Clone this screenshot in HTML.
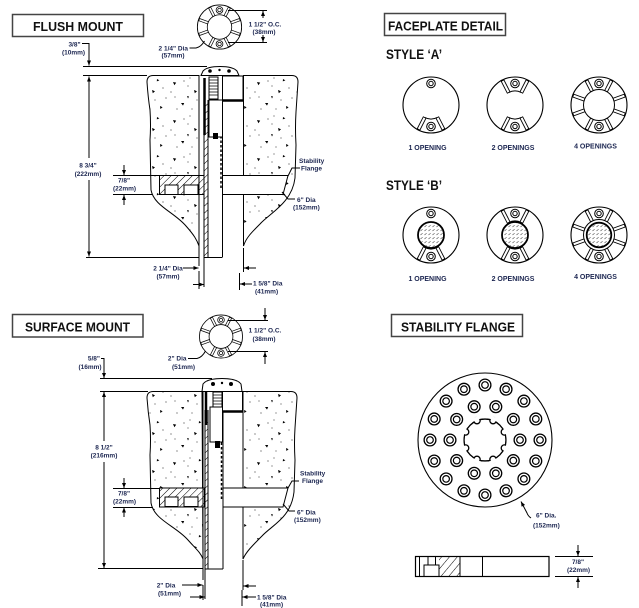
<!DOCTYPE html>
<html><head><meta charset="utf-8"><style>
html,body{margin:0;padding:0;background:#fff;}
svg{display:block;}
.t{font-family:"Liberation Sans",Arial,sans-serif;font-weight:bold;font-size:13px;fill:#111;}
.s{font-family:"Liberation Sans",Arial,sans-serif;font-weight:bold;font-size:13.5px;fill:#111;}
.l{font-family:"Liberation Sans",Arial,sans-serif;font-weight:bold;font-size:6.5px;fill:#1b2550;}
.o{font-family:"Liberation Sans",Arial,sans-serif;font-weight:bold;font-size:7px;fill:#1b2550;}
</style></head><body>
<svg width="639" height="608" viewBox="0 0 639 608" xmlns="http://www.w3.org/2000/svg">
<defs>
<marker id="a" viewBox="0 0 5 4" refX="5" refY="2" markerWidth="5" markerHeight="4" orient="auto" markerUnits="userSpaceOnUse"><path d="M0 0L5 2L0 4Z" fill="#000"/></marker>
<pattern id="conc" width="42" height="38" patternUnits="userSpaceOnUse">
<rect width="42" height="38" fill="#fff"/>
<path d="M5 6l3.2 .6l-1.8 2.6z M26 14l3 1.2l-2.2 2z M13 27l3.2 0l-1.2 2.6z M34 30l2.6 1.2l-2.2 1.8z M31 3l2.4 1.4l-2.6 1z M19 20l2 .5l-1 2z" fill="#000"/>
<g fill="#000"><circle cx="16" cy="5" r=".55"/><circle cx="3" cy="16" r=".55"/><circle cx="20" cy="10" r=".5"/><circle cx="37" cy="12" r=".55"/><circle cx="9" cy="33" r=".55"/><circle cx="24" cy="33" r=".5"/><circle cx="40" cy="22" r=".55"/><circle cx="29" cy="24" r=".5"/><circle cx="7" cy="21" r=".5"/><circle cx="22" cy="2" r=".5"/></g>
</pattern>
<pattern id="hat" width="5" height="5" patternUnits="userSpaceOnUse" patternTransform="rotate(45)"><rect width="5" height="5" fill="#fff"/><line x1="0" y1="0" x2="0" y2="5" stroke="#000" stroke-width="1"/></pattern>
<pattern id="hat2" width="6" height="6" patternUnits="userSpaceOnUse" patternTransform="rotate(40)"><rect width="6" height="6" fill="#fff"/><line x1="0" y1="0" x2="0" y2="6" stroke="#000" stroke-width="1"/></pattern>
<pattern id="hb" width="4" height="4" patternUnits="userSpaceOnUse"><rect width="4" height="4" fill="#fff"/><path d="M0.5 3L2.6 1.2" stroke="#444" stroke-width="0.6"/></pattern>
<g id="bolt"><circle r="4.3" fill="#fff" stroke="#000" stroke-width="1"/><circle r="2.2" fill="none" stroke="#000" stroke-width="1"/></g>
<rect id="bar" x="-1.5" y="-27.4" width="3" height="13.4" fill="#fff" stroke="#000" stroke-width="0.9"/>
<rect id="bar2" x="-1.5" y="-27.4" width="3" height="11.9" fill="#fff" stroke="#000" stroke-width="0.9"/>
<g id="band"><path d="M-6.35 -12.47A14 14 0 0 1 6.35 -12.47" fill="none" stroke="#000" stroke-width="1"/><use href="#bar" transform="rotate(-27)"/><use href="#bar" transform="rotate(27)"/></g>
<g id="f1"><circle r="28" fill="#fff" stroke="#000" stroke-width="1.1"/><use href="#band" transform="rotate(180)"/><use href="#bolt" y="-21.5"/><use href="#bolt" y="21.5"/></g>
<g id="f2"><circle r="28" fill="#fff" stroke="#000" stroke-width="1.1"/><use href="#band"/><use href="#band" transform="rotate(180)"/><use href="#bolt" y="-21.5"/><use href="#bolt" y="21.5"/></g>
<g id="f4"><circle r="28" fill="#fff" stroke="#000" stroke-width="1.1"/><circle r="15.5" fill="none" stroke="#000" stroke-width="1"/>
<use href="#bar2" transform="rotate(27)"/><use href="#bar2" transform="rotate(-27)"/><use href="#bar2" transform="rotate(70)"/><use href="#bar2" transform="rotate(-70)"/><use href="#bar2" transform="rotate(110)"/><use href="#bar2" transform="rotate(-110)"/><use href="#bar2" transform="rotate(153)"/><use href="#bar2" transform="rotate(-153)"/>
<use href="#bolt" y="-21.5"/><use href="#bolt" y="21.5"/></g>
<g id="hole"><circle r="5.9" fill="#fff" stroke="#000" stroke-width="1.3"/><circle r="3.3" fill="none" stroke="#000" stroke-width="1.2"/></g>
</defs>

<!-- ================= FLUSH MOUNT ================= -->
<rect x="12.5" y="14.5" width="131" height="22" fill="#fff" stroke="#444" stroke-width="1.5"/>
<text x="78" y="31" class="t" text-anchor="middle" textLength="90" lengthAdjust="spacingAndGlyphs">FLUSH MOUNT</text>

<use href="#f4" transform="translate(219.5,27) scale(0.79)"/>

<!-- concrete -->
<path d="M199 75.5H153Q147 75.5 147 82Q148 97 150 110Q151 125 150 140L151 190C154 206 174 212 186 226C194 235 197 240 199 246Z" fill="url(#conc)" stroke="#000" stroke-width="1"/>
<path d="M243.5 75.5H292Q298 75.5 298 82Q297 98 296 112Q295 128 296 145L295 178C292 203 270 213 260 224C251 233 246 238 243.5 246Z" fill="url(#conc)" stroke="#000" stroke-width="1"/>

<!-- flange -->
<rect x="159.5" y="175.5" width="44.5" height="19" fill="url(#hat)" stroke="#000" stroke-width="1"/>
<rect x="165" y="185" width="13" height="9.5" fill="#fff" stroke="#000" stroke-width="1"/>
<rect x="184" y="185" width="14" height="9.5" fill="#fff" stroke="#000" stroke-width="1"/>
<polygon points="222.5,175.5 288,175.5 283,194.5 222.5,194.5" fill="#fff" stroke="#000" stroke-width="1"/>

<!-- pipe -->
<rect x="204" y="100" width="4" height="157" fill="url(#hat)"/>
<g stroke="#000" stroke-width="1" fill="none">
<path d="M199 75.5V266M199 271V289"/>
<path d="M204 100V287M208 100V257M222.5 100V257M204 257.5H222.5"/>
<path d="M243.5 248V272M239.5 273V290"/>
<path d="M83 66.5H207M83 75.5H147M86 257.5H199"/>
</g>
<path d="M221 100V188" stroke="#000" stroke-width="1.5" stroke-dasharray="2.5 2"/>
<!-- top detail -->
<path d="M201 75.5L203 71Q207 66.5 220 66.5Q233 66.5 237 71L239 75.5Z" fill="#fff" stroke="#000" stroke-width="1"/>
<circle cx="210" cy="71" r="1.8"/><circle cx="229" cy="71" r="1.8"/><circle cx="219.5" cy="70" r="1.2"/>
<rect x="222.5" y="76" width="20.5" height="24" fill="#fff" stroke="#000" stroke-width="1"/>
<path d="M222.5 100.5H243" stroke="#000" stroke-width="2.5"/>
<path d="M204.5 78V135" stroke="#000" stroke-width="2.5"/>
<rect x="209" y="77" width="9" height="22" fill="#fff" stroke="#000" stroke-width="1"/>
<path d="M209 80H218M209 83H218M209 86H218M209 89H218M209 92H218M209 95H218" stroke="#000" stroke-width="0.8"/>
<rect x="209" y="100" width="13.5" height="37" fill="#fff" stroke="#000" stroke-width="1"/>
<rect x="213" y="133" width="5" height="6" fill="#000"/>

<!-- dims flush -->
<g stroke="#000" stroke-width="1" fill="none">
<path d="M228 10.5H267M228 42.5H267"/>
<path d="M263 18V11" marker-end="url(#a)"/><path d="M263 35V42" marker-end="url(#a)"/>
<path d="M189.5 48H196Q201 47 204.5 41"/>
<path d="M82 43.5H89V65.5" marker-end="url(#a)"/>
<path d="M89 158V76.5" marker-end="url(#a)"/><path d="M89 180V256.5" marker-end="url(#a)"/>
<path d="M113 175.5H160M113 194.5H152"/>
<path d="M124 165V175" marker-end="url(#a)"/><path d="M124 205V195" marker-end="url(#a)"/>
<path d="M183 268H198.5" marker-end="url(#a)"/><path d="M193 284.5H204" marker-end="url(#a)"/>
<path d="M256 268H244" marker-end="url(#a)"/><path d="M252 284H240" marker-end="url(#a)"/>
<path d="M288 176L292 168H300"/>
<path d="M282 192L288 199H295"/>
</g>
<text class="l" x="265" y="26.5" text-anchor="middle">1 1/2&quot; O.C.</text>
<text class="l" x="264" y="34" text-anchor="middle">(38mm)</text>
<text class="l" x="188" y="50.5" text-anchor="end">2 1/4&quot; Dia</text>
<text class="l" x="173" y="57.5" text-anchor="middle">(57mm)</text>
<text class="l" x="74.5" y="46.5" text-anchor="middle">3/8&quot;</text>
<text class="l" x="73.5" y="54.5" text-anchor="middle">(10mm)</text>
<text class="l" x="88" y="167.5" text-anchor="middle">8 3/4&quot;</text>
<text class="l" x="88" y="176" text-anchor="middle">(222mm)</text>
<text class="l" x="124" y="182.5" text-anchor="middle">7/8&quot;</text>
<text class="l" x="124.5" y="190.5" text-anchor="middle">(22mm)</text>
<text class="l" x="299" y="163">Stability</text>
<text class="l" x="301" y="170.5">Flange</text>
<text class="l" x="297" y="202">6&quot; Dia</text>
<text class="l" x="293" y="209.5">(152mm)</text>
<text class="l" x="168" y="270.5" text-anchor="middle">2 1/4&quot; Dia</text>
<text class="l" x="168" y="278.5" text-anchor="middle">(57mm)</text>
<text class="l" x="253" y="285.5">1 5/8&quot; Dia</text>
<text class="l" x="255" y="293.5">(41mm)</text>

<!-- ================= SURFACE MOUNT ================= -->
<rect x="12.5" y="314.5" width="130.5" height="22.5" fill="#fff" stroke="#444" stroke-width="1.5"/>
<text x="77.5" y="331.5" class="t" text-anchor="middle" textLength="105" lengthAdjust="spacingAndGlyphs">SURFACE MOUNT</text>

<use href="#f4" transform="translate(221,336.5) scale(0.77)"/>

<path d="M202 391.5H153Q147 391.5 147 398Q148 412 150 425Q151 440 150 455L151 503C154 520 176 526 188 540C196 549 201 553 203 559Z" fill="url(#conc)" stroke="#000" stroke-width="1"/>
<path d="M243 391.5H291Q297 391.5 297 398Q296 413 295 428Q294 443 295 460L294 492C291 518 272 525 262 536C252 546 246 552 243 559Z" fill="url(#conc)" stroke="#000" stroke-width="1"/>

<rect x="159.5" y="488" width="45" height="19" fill="url(#hat)" stroke="#000" stroke-width="1"/>
<rect x="165" y="497" width="13" height="9.5" fill="#fff" stroke="#000" stroke-width="1"/>
<rect x="184" y="497" width="14" height="9.5" fill="#fff" stroke="#000" stroke-width="1"/>
<polygon points="223,488 288,488 283,507 223,507" fill="#fff" stroke="#000" stroke-width="1"/>

<rect x="205" y="420" width="3" height="149" fill="url(#hat)"/>
<g stroke="#000" stroke-width="1" fill="none">
<path d="M203 391.5V580M203 585V600"/>
<path d="M205 410V599M208 410V569M223 411V569M205 569H223"/>
<path d="M243 560V590M242 590V606"/>
<path d="M100 378.5H212M100 391.5H148M98 568.5H203"/>
</g>
<path d="M221.5 411V500" stroke="#000" stroke-width="1.5" stroke-dasharray="2.5 2"/>
<path d="M202 391.5L203 384Q207 378.5 222 378.5Q237 378.5 241 384L242 391.5Z" fill="#fff" stroke="#000" stroke-width="1"/>
<circle cx="213" cy="384" r="2"/><circle cx="231" cy="384" r="2"/><circle cx="222" cy="383" r="1.2"/>
<rect x="222.5" y="391.5" width="20" height="20" fill="#fff" stroke="#000" stroke-width="1"/>
<path d="M222.5 411.5H243" stroke="#000" stroke-width="2.5"/>
<path d="M206 392V425" stroke="#000" stroke-width="2.5"/>
<rect x="213" y="392" width="9" height="15" fill="#fff" stroke="#000" stroke-width="1"/>
<path d="M213 395H222M213 398H222M213 401H222M213 404H222" stroke="#000" stroke-width="0.8"/>
<rect x="210" y="407" width="12.5" height="35" fill="#fff" stroke="#000" stroke-width="1"/>
<rect x="215" y="441" width="5" height="7" fill="#000"/>

<g stroke="#000" stroke-width="1" fill="none">
<path d="M228 320.5H268M228 351.5H268"/>
<path d="M265 308V320" marker-end="url(#a)"/><path d="M265 364V352" marker-end="url(#a)"/>
<path d="M188 358.5H197Q202 357.5 205.5 351"/>
<path d="M101 358.5H104V378" marker-end="url(#a)"/>
<path d="M104 441V392" marker-end="url(#a)"/><path d="M104 462V568" marker-end="url(#a)"/>
<path d="M113 488.5H160M113 507.5H153"/>
<path d="M124 478V488" marker-end="url(#a)"/><path d="M124 517V507.5" marker-end="url(#a)"/>
<path d="M182 585H202.5" marker-end="url(#a)"/><path d="M190 597H204.5" marker-end="url(#a)"/>
<path d="M256 586H243.5" marker-end="url(#a)"/><path d="M256 597H242.5" marker-end="url(#a)"/>
<path d="M288 488L292 481H299"/>
<path d="M283 504L289 511H295"/>
</g>
<text class="l" x="265" y="332.5" text-anchor="middle">1 1/2&quot; O.C.</text>
<text class="l" x="264" y="341" text-anchor="middle">(38mm)</text>
<text class="l" x="186.5" y="360.5" text-anchor="end">2&quot; Dia</text>
<text class="l" x="183.5" y="369" text-anchor="middle">(51mm)</text>
<text class="l" x="100" y="360.5" text-anchor="end">5/8&quot;</text>
<text class="l" x="90" y="369" text-anchor="middle">(16mm)</text>
<text class="l" x="104" y="449.5" text-anchor="middle">8 1/2&quot;</text>
<text class="l" x="104" y="457.5" text-anchor="middle">(216mm)</text>
<text class="l" x="124" y="495.5" text-anchor="middle">7/8&quot;</text>
<text class="l" x="124.5" y="503.5" text-anchor="middle">(22mm)</text>
<text class="l" x="300" y="475.5">Stability</text>
<text class="l" x="302" y="483">Flange</text>
<text class="l" x="297" y="514.5">6&quot; Dia</text>
<text class="l" x="294" y="522">(152mm)</text>
<text class="l" x="166" y="587.5" text-anchor="middle">2&quot; Dia</text>
<text class="l" x="169.5" y="595.5" text-anchor="middle">(51mm)</text>
<text class="l" x="257" y="599.5">1 5/8&quot; Dia</text>
<text class="l" x="260" y="606.5">(41mm)</text>

<!-- ================= FACEPLATE DETAIL ================= -->
<rect x="384.5" y="13.5" width="121" height="22" fill="#fff" stroke="#444" stroke-width="1.5"/>
<text x="445.5" y="30.5" class="t" text-anchor="middle" textLength="115" lengthAdjust="spacingAndGlyphs">FACEPLATE DETAIL</text>
<text x="386" y="59" class="s" textLength="56" lengthAdjust="spacingAndGlyphs">STYLE &#8216;A&#8217;</text>

<use href="#f1" transform="translate(431,105)"/>
<use href="#f2" transform="translate(515,105)"/>
<use href="#f4" transform="translate(599,105)"/>
<text class="o" x="427.5" y="150" text-anchor="middle">1 OPENING</text>
<text class="o" x="513" y="150" text-anchor="middle">2 OPENINGS</text>
<text class="o" x="595.5" y="148.5" text-anchor="middle">4 OPENINGS</text>

<text x="386" y="190" class="s" textLength="56" lengthAdjust="spacingAndGlyphs">STYLE &#8216;B&#8217;</text>
<use href="#f1" transform="translate(431,235)"/>
<circle cx="431" cy="235" r="13" fill="url(#hb)" stroke="#000" stroke-width="1.8"/>
<use href="#f2" transform="translate(515,235)"/>
<circle cx="515" cy="235" r="13" fill="url(#hb)" stroke="#000" stroke-width="1.8"/>
<use href="#f4" transform="translate(599,235)"/>
<circle cx="599" cy="235" r="12.3" fill="url(#hb)" stroke="#000" stroke-width="1.8"/>
<text class="o" x="427.5" y="281" text-anchor="middle">1 OPENING</text>
<text class="o" x="513" y="281" text-anchor="middle">2 OPENINGS</text>
<text class="o" x="595.5" y="279" text-anchor="middle">4 OPENINGS</text>

<!-- ================= STABILITY FLANGE ================= -->
<rect x="391.5" y="314.5" width="131" height="22" fill="#fff" stroke="#444" stroke-width="1.5"/>
<text x="458" y="331.5" class="t" text-anchor="middle" textLength="114" lengthAdjust="spacingAndGlyphs">STABILITY FLANGE</text>

<circle cx="485" cy="440" r="67" fill="#fff" stroke="#000" stroke-width="1.1"/>
<use href="#hole" x="485" y="385"/><use href="#hole" x="506.05" y="389.19"/><use href="#hole" x="523.89" y="401.11"/><use href="#hole" x="535.81" y="418.95"/>
<use href="#hole" x="540" y="440"/><use href="#hole" x="535.81" y="461.05"/><use href="#hole" x="523.89" y="478.89"/><use href="#hole" x="506.05" y="490.81"/>
<use href="#hole" x="485" y="495"/><use href="#hole" x="463.95" y="490.81"/><use href="#hole" x="446.11" y="478.89"/><use href="#hole" x="434.19" y="461.05"/>
<use href="#hole" x="430" y="440"/><use href="#hole" x="434.19" y="418.95"/><use href="#hole" x="446.11" y="401.11"/><use href="#hole" x="463.95" y="389.19"/>
<use href="#hole" x="495.82" y="406.71"/><use href="#hole" x="513.32" y="419.43"/><use href="#hole" x="520" y="440"/><use href="#hole" x="513.32" y="460.57"/><use href="#hole" x="495.82" y="473.29"/>
<use href="#hole" x="474.18" y="473.29"/><use href="#hole" x="456.68" y="460.57"/><use href="#hole" x="450" y="440"/><use href="#hole" x="456.68" y="419.43"/><use href="#hole" x="474.18" y="406.71"/>
<g transform="translate(485,440)">
<circle r="21" fill="#fff" stroke="#000" stroke-width="1.4"/>
<g fill="#fff" stroke="#000" stroke-width="1.3">
<circle cx="8.04" cy="-19.4" r="3.2"/><circle cx="19.4" cy="-8.04" r="3.2"/><circle cx="19.4" cy="8.04" r="3.2"/><circle cx="8.04" cy="19.4" r="3.2"/>
<circle cx="-8.04" cy="19.4" r="3.2"/><circle cx="-19.4" cy="8.04" r="3.2"/><circle cx="-19.4" cy="-8.04" r="3.2"/><circle cx="-8.04" cy="-19.4" r="3.2"/>
</g>
<circle r="23.3" fill="none" stroke="#fff" stroke-width="3.2"/>
</g>
<path d="M531 518Q528 516 527 513L521 501.5" fill="none" stroke="#000" stroke-width="1" marker-end="url(#a)"/>
<text class="l" x="536" y="517.5">6&quot; Dia.</text>
<text class="l" x="533" y="527.5">(152mm)</text>

<!-- side view -->
<rect x="439" y="556.5" width="21" height="19.5" fill="url(#hat2)"/>
<rect x="415.5" y="556.5" width="133.5" height="20" fill="none" stroke="#000" stroke-width="1.2"/>
<g stroke="#000" stroke-width="1" fill="none">
<path d="M419.5 556.5V576.5M428 556.5V565M435.5 556.5V565M460 556.5V576.5M482.5 556.5V576.5"/>
<path d="M424 576.5V565H439V576.5"/>
<path d="M555 556.5H593M555 576.5H593"/>
<path d="M578 545V556" marker-end="url(#a)"/><path d="M578 588V577" marker-end="url(#a)"/>
</g>
<text class="l" x="578" y="564" text-anchor="middle">7/8&quot;</text>
<text class="l" x="578.5" y="572" text-anchor="middle">(22mm)</text>
</svg>
</body></html>
